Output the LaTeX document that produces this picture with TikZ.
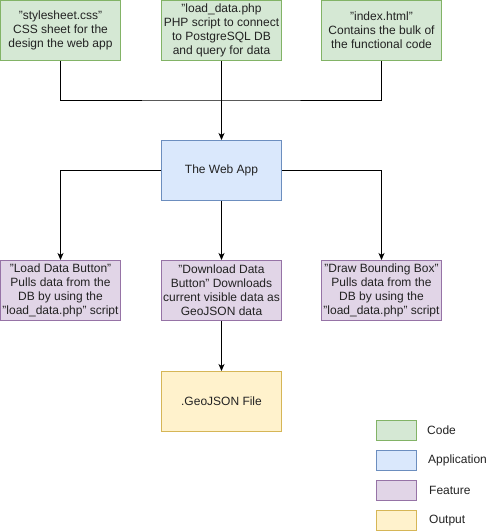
\documentclass[tikz,border=0pt]{standalone}
\usepackage{fontspec}
\setmainfont{Liberation Sans}
\usetikzlibrary{arrows.meta}
\definecolor{gfill}{HTML}{D5E8D4}\definecolor{gdraw}{HTML}{82B366}
\definecolor{bfill}{HTML}{DAE8FC}\definecolor{bdraw}{HTML}{6C8EBF}
\definecolor{pfill}{HTML}{E1D5E7}\definecolor{pdraw}{HTML}{9673A6}
\definecolor{yfill}{HTML}{FFF2CC}\definecolor{ydraw}{HTML}{D6B656}
\definecolor{txt}{HTML}{222222}
\begin{document}
\begin{tikzpicture}[x=1pt,y=-1pt,
  box/.style={minimum width=120pt,minimum height=60pt,inner sep=0pt,align=center,
    font=\fontsize{12}{14}\selectfont,text=txt,line width=1pt},
  code/.style={box,fill=gfill,draw=gdraw},
  app/.style={box,fill=bfill,draw=bdraw},
  feat/.style={box,fill=pfill,draw=pdraw},
  outp/.style={box,fill=yfill,draw=ydraw},
  leg/.style={minimum width=40pt,minimum height=20pt,inner sep=0pt,line width=1pt},
  legtxt/.style={anchor=west,inner sep=0pt,font=\fontsize{12}{14}\selectfont,text=txt},
  conn/.style={line width=1pt,black},
  arr/.style={conn,-{Stealth[length=7pt,width=6pt,inset=2pt]}}]
\useasboundingbox (0,0) rectangle (487,531);
\node[code] (css) at (60.5,30.5) {"stylesheet.css"\\CSS sheet for the\\design the web app};
\node[code] (php) at (221.5,30.5) {"load\_data.php\\PHP script to connect\\to PostgreSQL DB\\and query for data};
\node[code] (idx) at (381.5,30.5) {"index.html"\\Contains the bulk of\\the functional code};
\node[app] (web) at (221.5,170.5) {The Web App};
\node[feat] (load) at (60.5,290.5) {"Load Data Button"\\Pulls data from the\\DB by using the\\"load\_data.php" script};
\node[feat] (dl) at (221.5,290.5) {"Download Data\\Button" Downloads\\current visible data as\\GeoJSON data};
\node[feat] (bb) at (381.5,290.5) {"Draw Bounding Box"\\Pulls data from the\\DB by using the\\"load\_data.php" script};
\node[outp] (geo) at (221.5,401.5) {.GeoJSON File};
\coordinate (j) at (221.5,100);
\draw[conn] (css.south) |- (j) -| (idx.south);
\draw[arr] (php.south) -- (web.north);
\draw[arr] (web.west) -| (load.north);
\draw[arr] (web.east) -| (bb.north);
\draw[arr] (web.south) -- (dl.north);
\draw[arr] (dl.south) -- (geo.north);
\node[leg,fill=gfill,draw=gdraw] (lc) at (396.5,430.5) {};
\node[leg,fill=bfill,draw=bdraw] (la) at (396.5,460.5) {};
\node[leg,fill=pfill,draw=pdraw] (lf) at (396.5,490.5) {};
\node[leg,fill=yfill,draw=ydraw] (lo) at (396.5,520.5) {};
\node[legtxt] (tc) at (427,430.5) {Code};
\node[legtxt] (ta) at (428,460.5) {Application};
\node[legtxt] (tf) at (429,490.5) {Feature};
\node[legtxt] (to) at (429,520.5) {Output};
\end{tikzpicture}
\end{document}
